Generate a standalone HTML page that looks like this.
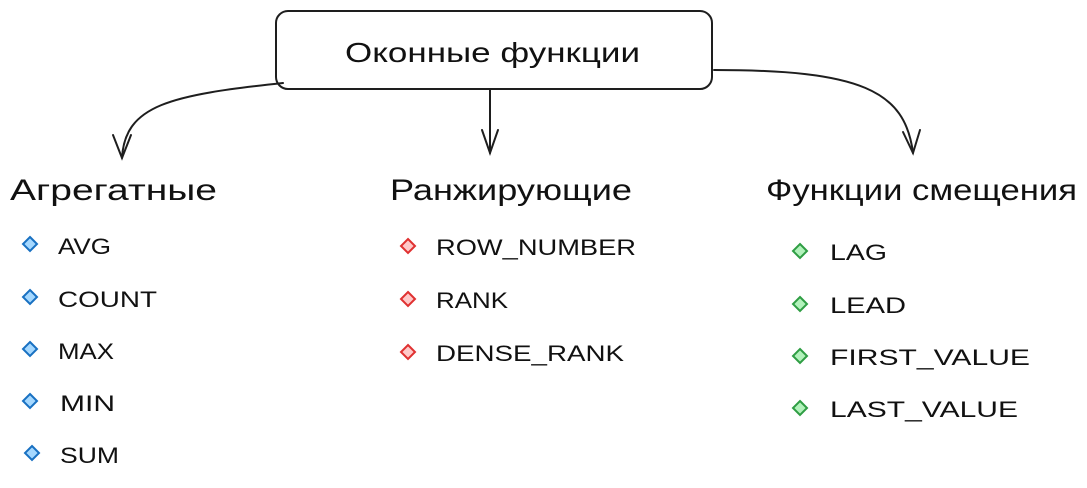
<!DOCTYPE html>
<html><head><meta charset="utf-8"><style>
body{margin:0;background:#fff;width:1087px;height:483px;overflow:hidden}
text{font-family:"Liberation Sans",sans-serif;fill:#111}
</style></head><body>
<svg width="1087" height="483" viewBox="0 0 1087 483" xmlns="http://www.w3.org/2000/svg">
<g fill="none" stroke="#1e1e1e" stroke-width="2" stroke-linecap="round">
<rect x="276" y="11" width="436" height="78" rx="12"/>
<path d="M283 83 C170 95,125 105,122 158"/>
<path d="M113 135 L122 158 L131 135"/>
<path d="M490 90 L490 153"/>
<path d="M482 130 L490 153 L498 130"/>
<path d="M714 70 C860 70,905 90,913 153"/>
<path d="M903 132 L913 153 L920 130"/>
</g>
<g lengthAdjust="spacingAndGlyphs">
<text x="345" y="62" font-size="28" textLength="295" lengthAdjust="spacingAndGlyphs">Оконные функции</text>
<text x="10" y="200" font-size="30" textLength="207" lengthAdjust="spacingAndGlyphs">Агрегатные</text>
<text x="390" y="200" font-size="30" textLength="242" lengthAdjust="spacingAndGlyphs">Ранжирующие</text>
<text x="766" y="200" font-size="30" textLength="311" lengthAdjust="spacingAndGlyphs">Функции смещения</text>
</g>
<g font-size="22">
<text x="58" y="254" textLength="53" lengthAdjust="spacingAndGlyphs">AVG</text>
<text x="58" y="307" textLength="99" lengthAdjust="spacingAndGlyphs">COUNT</text>
<text x="58" y="359" textLength="56" lengthAdjust="spacingAndGlyphs">MAX</text>
<text x="60" y="411" textLength="55" lengthAdjust="spacingAndGlyphs">MIN</text>
<text x="60" y="463" textLength="59" lengthAdjust="spacingAndGlyphs">SUM</text>
<text x="436" y="255" textLength="200" lengthAdjust="spacingAndGlyphs">ROW_NUMBER</text>
<text x="436" y="308" textLength="72" lengthAdjust="spacingAndGlyphs">RANK</text>
<text x="436" y="361" textLength="188" lengthAdjust="spacingAndGlyphs">DENSE_RANK</text>
<text x="830" y="260" textLength="57" lengthAdjust="spacingAndGlyphs">LAG</text>
<text x="830" y="313" textLength="76" lengthAdjust="spacingAndGlyphs">LEAD</text>
<text x="830" y="365" textLength="200" lengthAdjust="spacingAndGlyphs">FIRST_VALUE</text>
<text x="830" y="417" textLength="188" lengthAdjust="spacingAndGlyphs">LAST_VALUE</text>
</g>
<g fill="#a5d8ff" stroke="#1971c2" stroke-width="2">
<path d="M30 237 l7 7 -7 7 -7 -7z"/><path d="M30 290 l7 7 -7 7 -7 -7z"/><path d="M30 342 l7 7 -7 7 -7 -7z"/><path d="M30 394 l7 7 -7 7 -7 -7z"/><path d="M32 446 l7 7 -7 7 -7 -7z"/>
</g>
<g fill="#ffc9c9" stroke="#e03131" stroke-width="2">
<path d="M408 239 l7 7 -7 7 -7 -7z"/><path d="M408 292 l7 7 -7 7 -7 -7z"/><path d="M408 345 l7 7 -7 7 -7 -7z"/>
</g>
<g fill="#b2f2bb" stroke="#2f9e44" stroke-width="2">
<path d="M800 244 l7 7 -7 7 -7 -7z"/><path d="M800 297 l7 7 -7 7 -7 -7z"/><path d="M800 349 l7 7 -7 7 -7 -7z"/><path d="M800 401 l7 7 -7 7 -7 -7z"/>
</g>
</svg>
</body></html>
